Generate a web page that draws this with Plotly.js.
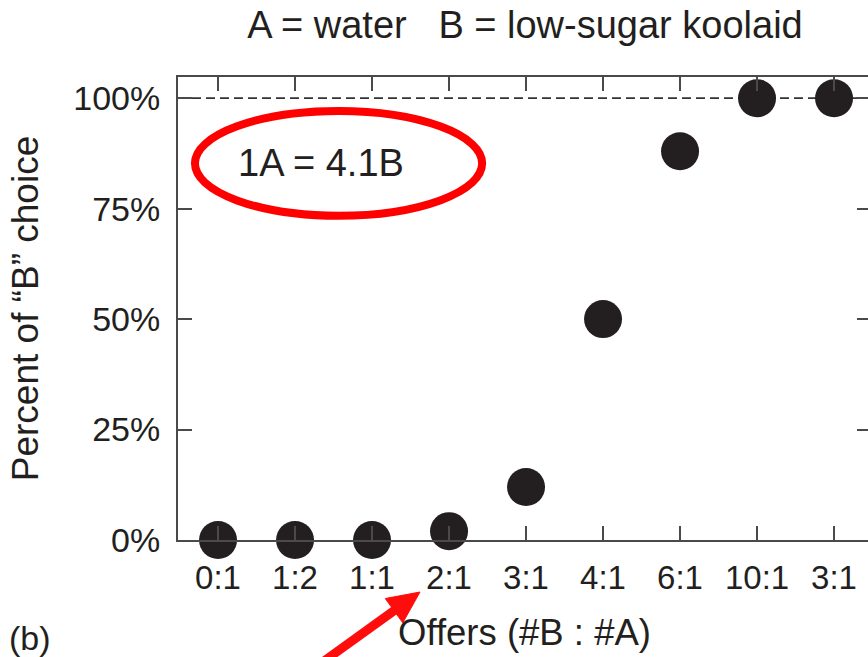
<!DOCTYPE html>
<html>
<head>
<meta charset="utf-8">
<script src="https://cdn.plot.ly/plotly-3.0.1.min.js"></script>
<style>
html, body { margin: 0; padding: 0; overflow: hidden; background: #fff; }
#chart { width: 880px; height: 657px; }
</style>
</head>
<body>
<div id="chart"></div>
<script>
// Offer ratios (#B : #A) and percent choosing B
const offerLabels = ["0:1", "1:2", "1:1", "2:1", "3:1", "4:1", "6:1", "10:1", "3:1"];
const percentB = [0, 0, 0, 2, 12, 50, 88, 100, 100];
const yTickVals = [0, 25, 50, 75, 100];
const yTickText = ["0%", "25%", "50%", "75%", "100%"];
const chartTitle = "A = water   B = low-sugar koolaid";
const xTitle = "Offers (#B : #A)";
const yTitle = "Percent of \u201cB\u201d choice";
const indifference = "1A = 4.1B";
const panelLabel = "(b)";

const xPos = offerLabels.map((_, i) => i);
const ink = "#231f20";
const axisCol = "#4a4a4a";
const FONT = "Liberation Sans, Arial, Helvetica, sans-serif";

// plot-area geometry helpers (pixel -> paper fraction) for the decorations
const PL = 178, PW = 693, PB = 540, PH = 463;
const px = x => (x - PL) / PW;
const py = y => (PB - y) / PH;

// red arrow pointing at the "2:1" label (decoration)
const tip = [420, 592], tail = [288, 687];
const dx = tip[0] - tail[0], dy = tip[1] - tail[1];
const len = Math.hypot(dx, dy);
const ux = dx / len, uy = dy / len;
const headLen = 32, headHalf = 15;
const base = [tip[0] - headLen * ux, tip[1] - headLen * uy];
const c1 = [base[0] - headHalf * uy, base[1] + headHalf * ux];
const c2 = [base[0] + headHalf * uy, base[1] - headHalf * ux];
const arrowPath = `M ${px(tip[0])} ${py(tip[1])} L ${px(c1[0])} ${py(c1[1])} L ${px(c2[0])} ${py(c2[1])} Z`;

const trace = {
  type: "scatter",
  mode: "markers",
  x: xPos,
  y: percentB,
  marker: { color: ink, size: 38, line: { width: 0 } },
  cliponaxis: false,
  hoverinfo: "skip"
};

const layout = {
  width: 880,
  height: 657,
  margin: { l: 178, r: 9, t: 77, b: 117 },
  paper_bgcolor: "#ffffff",
  plot_bgcolor: "#ffffff",
  font: { family: FONT, color: ink, size: 34 },
  showlegend: false,
  title: {
    text: chartTitle,
    font: { family: FONT, size: 38, color: ink },
    xref: "container", yref: "container",
    x: 525 / 880, y: 1 - 25 / 657,
    xanchor: "center", yanchor: "middle"
  },
  xaxis: {
    range: [-0.52, 8.48],
    tickmode: "array",
    tickvals: xPos,
    ticktext: offerLabels,
    ticks: "inside",
    ticklen: 14,
    tickwidth: 2,
    tickcolor: axisCol,
    showline: true,
    linecolor: axisCol,
    linewidth: 2,
    mirror: "ticks",
    showgrid: false,
    zeroline: false,
    tickfont: { family: FONT, size: 33, color: ink },
    ticklabelstandoff: 7,
    title: { text: xTitle, font: { family: FONT, size: 36.5, color: ink }, standoff: 25 },
    fixedrange: true
  },
  yaxis: {
    range: [0, 104.8],
    tickmode: "array",
    tickvals: yTickVals,
    ticktext: yTickText,
    ticks: "inside",
    ticklen: 14,
    tickwidth: 2,
    tickcolor: axisCol,
    showline: true,
    linecolor: axisCol,
    linewidth: 2,
    mirror: "ticks",
    showgrid: false,
    zeroline: false,
    tickfont: { family: FONT, size: 34, color: ink },
    ticklabelstandoff: 9,
    title: { text: yTitle, font: { family: FONT, size: 37, color: ink }, standoff: 23 },
    fixedrange: true
  },
  shapes: [
    {
      type: "line", xref: "paper", yref: "y",
      x0: 0, x1: 1, y0: 100, y1: 100,
      line: { color: "#333333", width: 1.8, dash: "9px,5px" },
      layer: "below"
    },
    {
      type: "circle", xref: "x", yref: "y",
      x0: -0.30, x1: 3.43, y0: 73.4, y1: 97.1,
      line: { color: "#ff0000", width: 8 },
      fillcolor: "rgba(0,0,0,0)"
    },
    {
      type: "line", xref: "paper", yref: "paper",
      x0: px(tail[0]), y0: py(tail[1]), x1: px(base[0] + 2 * ux), y1: py(base[1] + 2 * uy),
      line: { color: "#ff0d0d", width: 9 }
    },
    {
      type: "path", xref: "paper", yref: "paper",
      path: arrowPath,
      fillcolor: "#ff0d0d",
      line: { color: "#ff0d0d", width: 1 }
    }
  ],
  annotations: [
    {
      text: indifference, xref: "x", yref: "y", x: 1.34, y: 85.3,
      showarrow: false, font: { family: FONT, size: 38, color: ink },
      xanchor: "center", yanchor: "middle"
    },
    {
      text: panelLabel, xref: "paper", yref: "paper",
      x: px(30), y: py(638),
      showarrow: false, font: { family: FONT, size: 34, color: ink },
      xanchor: "center", yanchor: "middle"
    }
  ]
};

Plotly.newPlot("chart", [trace], layout, { displayModeBar: false, staticPlot: true });
</script>
</body>
</html>
